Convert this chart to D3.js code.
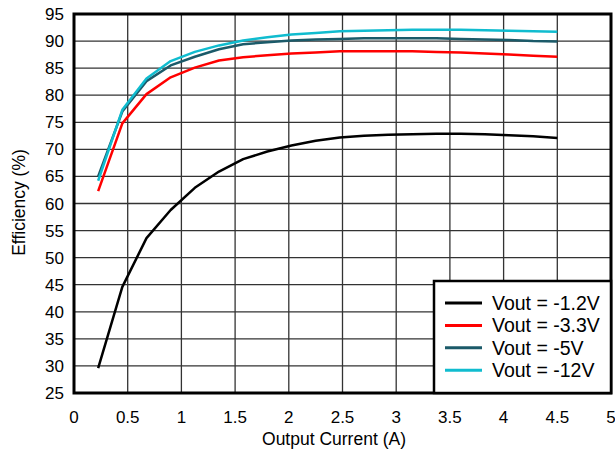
<!DOCTYPE html>
<html>
<head>
<meta charset="utf-8">
<script src="https://cdn.jsdelivr.net/npm/d3@7"></script>
<style>
body { margin: 0; background: #fff; }
svg text { font-family: "Liberation Sans", Arial, sans-serif; }
</style>
</head>
<body>
<div id="chart"></div>
<script>
var width = 615;
var height = 454;

// output current (A)
var current = [0.225, 0.45, 0.675, 0.9, 1.125, 1.35, 1.575, 1.8, 2.025, 2.25,
               2.475, 2.7, 2.925, 3.15, 3.375, 3.6, 3.825, 4.05, 4.275, 4.5];

var eff12 = [29.6, 44.6, 53.6, 58.8, 62.9, 65.9, 68.2, 69.6, 70.7, 71.6,
             72.2, 72.5, 72.7, 72.8, 72.9, 72.9, 72.8, 72.6, 72.4, 72.1];
var eff33 = [62.3, 74.8, 80.2, 83.3, 85.1, 86.4, 87.0, 87.4, 87.7, 87.9,
             88.1, 88.1, 88.1, 88.1, 88.0, 87.9, 87.7, 87.5, 87.3, 87.1];
var eff5  = [65.0, 77.0, 82.6, 85.5, 87.1, 88.5, 89.4, 89.8, 90.1, 90.3,
             90.4, 90.5, 90.5, 90.5, 90.5, 90.4, 90.3, 90.2, 90.0, 89.9];
var eff12v = [64.2, 77.3, 83.1, 86.3, 88.0, 89.2, 90.1, 90.7, 91.2, 91.5,
              91.8, 91.9, 92.0, 92.1, 92.1, 92.1, 92.0, 91.9, 91.8, 91.7];

var seriesNames = ["Vout = -1.2V", "Vout = -3.3V", "Vout = -5V", "Vout = -12V"];
var seriesData = [eff12, eff33, eff5, eff12v];
var colors = ["#000000", "#ff0000", "#1b5a69", "#10bccf"];

var xTicks = [0, 0.5, 1, 1.5, 2, 2.5, 3, 3.5, 4, 4.5, 5];
var yTicks = [25, 30, 35, 40, 45, 50, 55, 60, 65, 70, 75, 80, 85, 90, 95];

var pLeft = 74, pRight = 611, pTop = 14, pBottom = 393;

var x = d3.scaleLinear().domain([0, 5]).range([pLeft, pRight]);
var y = d3.scaleLinear().domain([25, 95]).range([pBottom, pTop]);

var svg = d3.select("#chart")
    .append("svg")
    .attr("width", width)
    .attr("height", height);

// grid
svg.append("g")
    .selectAll("line")
    .data(xTicks)
    .enter()
    .append("line")
    .attr("x1", function(d) { return x(d); })
    .attr("x2", function(d) { return x(d); })
    .attr("y1", pTop)
    .attr("y2", pBottom)
    .attr("stroke", "#333")
    .attr("stroke-width", 1.3);

svg.append("g")
    .selectAll("line")
    .data(yTicks)
    .enter()
    .append("line")
    .attr("x1", pLeft)
    .attr("x2", pRight)
    .attr("y1", function(d) { return y(d); })
    .attr("y2", function(d) { return y(d); })
    .attr("stroke", "#333")
    .attr("stroke-width", 1.3);

// tick labels
svg.append("g")
    .selectAll("text")
    .data(xTicks)
    .enter()
    .append("text")
    .attr("x", function(d) { return x(d); })
    .attr("y", 423)
    .attr("text-anchor", "middle")
    .attr("font-size", 17)
    .text(function(d) { return d; });

svg.append("g")
    .selectAll("text")
    .data(yTicks)
    .enter()
    .append("text")
    .attr("x", 64)
    .attr("y", function(d) { return y(d) + 6; })
    .attr("text-anchor", "end")
    .attr("font-size", 17)
    .text(function(d) { return d; });

// axis titles
svg.append("text")
    .attr("x", 334)
    .attr("y", 445)
    .attr("text-anchor", "middle")
    .attr("font-size", 17.5)
    .text("Output Current (A)");

svg.append("text")
    .attr("transform", "translate(25,202.5) rotate(-90)")
    .attr("text-anchor", "middle")
    .attr("font-size", 17.5)
    .text("Efficiency (%)");

// curves
var line = d3.line()
    .x(function(d, i) { return x(current[i]); })
    .y(function(d) { return y(d); });

svg.append("g")
    .selectAll("path")
    .data(seriesData)
    .enter()
    .append("path")
    .attr("d", line)
    .attr("fill", "none")
    .attr("stroke", function(d, i) { return colors[i]; })
    .attr("stroke-width", 2.5)
    .attr("stroke-linejoin", "round");

// plot border
svg.append("rect")
    .attr("x", pLeft)
    .attr("y", pTop)
    .attr("width", pRight - pLeft)
    .attr("height", pBottom - pTop)
    .attr("fill", "none")
    .attr("stroke", "#000")
    .attr("stroke-width", 3);

// legend
var lg = svg.append("g");
lg.append("rect")
    .attr("x", 434)
    .attr("y", 281)
    .attr("width", pRight - 434)
    .attr("height", pBottom - 281)
    .attr("fill", "#fff")
    .attr("stroke", "#000")
    .attr("stroke-width", 2.5);

var rows = lg.selectAll("g.row")
    .data(seriesNames)
    .enter()
    .append("g")
    .attr("class", "row")
    .attr("transform", function(d, i) { return "translate(0," + (303 + i * 22.4) + ")"; });

rows.append("line")
    .attr("x1", 445)
    .attr("x2", 482)
    .attr("stroke", function(d, i) { return colors[i]; })
    .attr("stroke-width", 3);

rows.append("text")
    .attr("x", 492)
    .attr("y", 7)
    .attr("font-size", 19.5)
    .text(function(d) { return d; });
</script>
</body>
</html>
